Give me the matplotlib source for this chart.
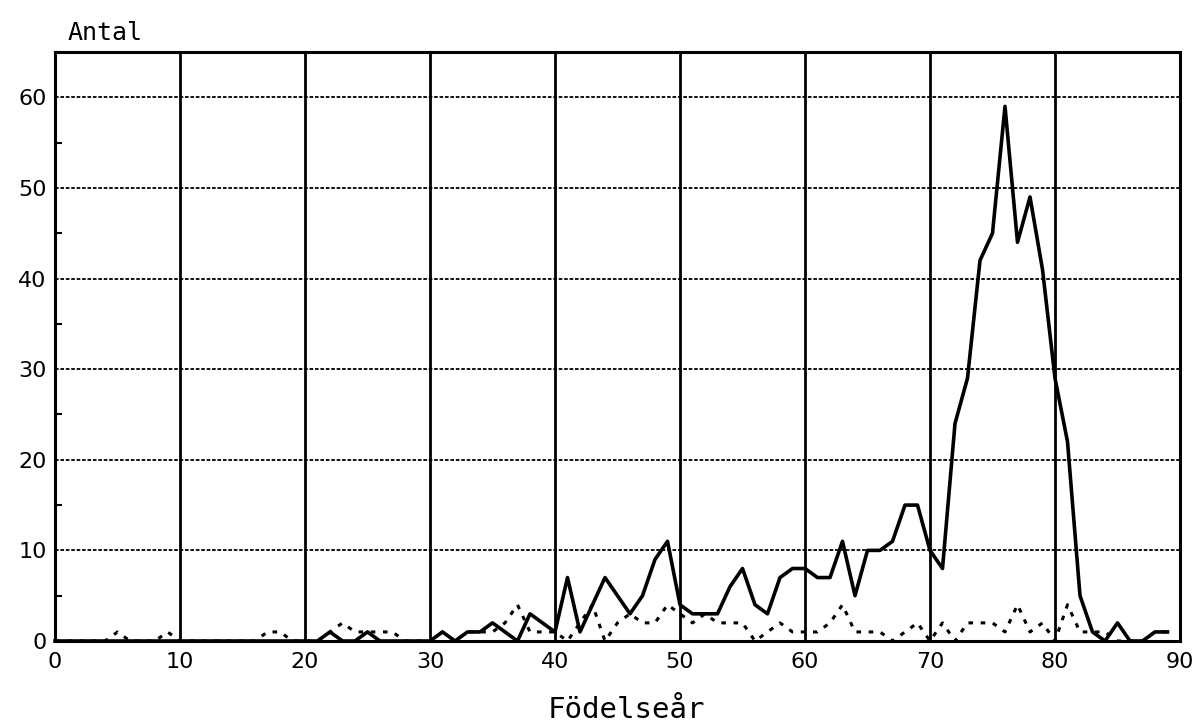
import matplotlib
matplotlib.use("Agg")
import matplotlib.pyplot as plt
from matplotlib.ticker import MultipleLocator

# birth year (19xx) and counts
years = list(range(90))

# solid line
antal_alla = [0] * 21 + [
    0, 1, 0, 0, 1, 0, 0, 0, 0, 0,
    1, 0, 1, 1, 2, 1, 0, 3, 2, 1,
    7, 1, 4, 7, 5, 3, 5, 9, 11, 4,
    3, 3, 3, 6, 8, 4, 3, 7, 8, 8,
    7, 7, 11, 5, 10, 10, 11, 15, 15, 10,
    8, 24, 29, 42, 45, 59, 44, 49, 41, 29,
    22, 5, 1, 0, 2, 0, 0, 1, 1]

# dotted line
antal_urval = [
    0, 0, 0, 0, 0, 1, 0, 0, 0, 1,
    0, 0, 0, 0, 0, 0, 0, 1, 1, 0,
    0, 0, 1, 2, 1, 1, 1, 1, 0, 0,
    0, 1, 0, 1, 1, 1, 2, 4, 1, 1,
    1, 0, 2, 4, 0, 2, 3, 2, 2, 4,
    3, 2, 3, 2, 2, 2, 0, 1, 2, 1,
    1, 1, 2, 4, 1, 1, 1, 0, 1, 2,
    0, 2, 0, 2, 2, 2, 1, 4, 1, 2,
    0, 4, 1, 1, 1, 0, 0, 0, 1, 1]

xticks = list(range(0, 91, 10))
yticks = list(range(0, 61, 10))

fig = plt.figure(figsize=(11.98, 7.26), dpi=100)
ax = fig.add_axes([55 / 1198, 1 - 641 / 726, 1125 / 1198, 589 / 726])

# grid: solid verticals, dotted horizontals
for x in xticks[1:-1]:
    ax.axvline(x, color="black", lw=2.0, zorder=1)
for y in yticks[1:]:
    ax.axhline(y, color="black", lw=1.3, linestyle=(0, (2, 1)), zorder=1)

ax.plot(years, antal_urval, color="black", lw=2.2, linestyle=(0, (1.5, 2.5)),
        clip_on=False, zorder=3)
ax.plot(years, antal_alla, color="black", lw=2.6, clip_on=False, zorder=4)

ax.set_xlim(0, 90)
ax.set_ylim(0, 65)
ax.set_xticks(xticks)
ax.set_yticks(yticks)
ax.yaxis.set_minor_locator(MultipleLocator(5))
ax.tick_params(axis="x", length=0, pad=8, labelsize=16)
ax.tick_params(axis="y", which="major", length=0, pad=6, labelsize=16)
ax.tick_params(axis="y", which="minor", direction="in", length=5, width=1.5)

for s in ax.spines.values():
    s.set_linewidth(2.2)
    s.set_color("black")

fig.text(68 / 1198, 1 - 40 / 726, "Antal", fontsize=18,
         family="DejaVu Sans Mono", va="baseline")
fig.text(626 / 1198, 1 - 718 / 726, "Födelseår", fontsize=21,
         family="DejaVu Sans Mono", ha="center", va="baseline")

fig.savefig("out.png", dpi=100)
